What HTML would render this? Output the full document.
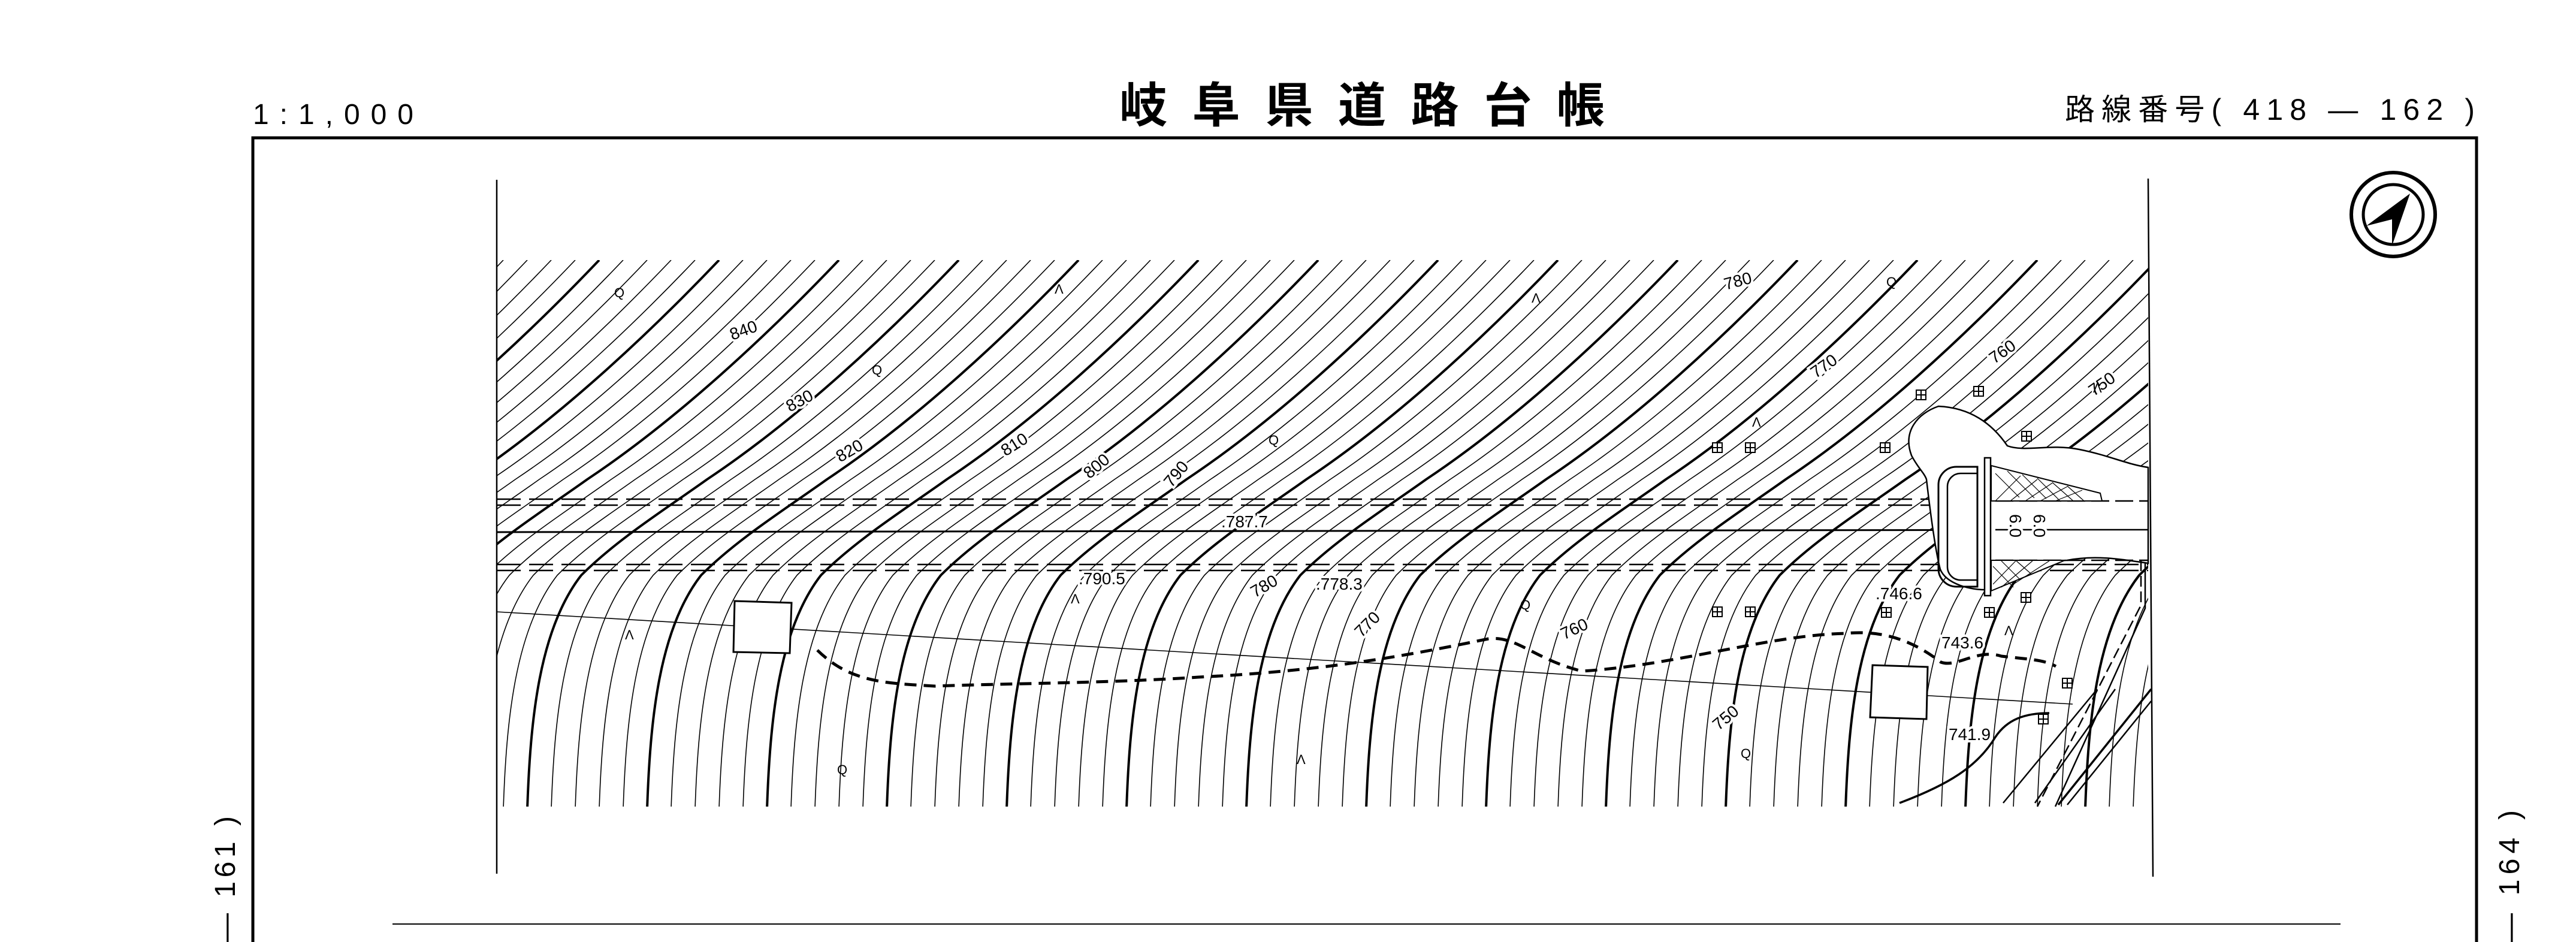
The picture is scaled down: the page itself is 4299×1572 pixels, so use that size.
<!DOCTYPE html>
<html><head><meta charset="utf-8">
<style>
html,body{margin:0;padding:0;background:#fff;}
body{width:4299px;height:1572px;overflow:hidden;position:relative;}
svg{position:absolute;left:0;top:0;}
text{font-family:"Liberation Sans","Noto Sans CJK JP",sans-serif;fill:#000;}
</style></head><body>
<svg width="4299" height="1572" viewBox="0 0 4299 1572" xmlns="http://www.w3.org/2000/svg">
<defs>
<clipPath id="mc"><rect x="829" y="434" width="2756" height="912"/></clipPath>
<path id="a" d="M0,1350 C5,1200 20,1050 90,960 C150,900 230,850 300,800 C450,700 600,560 720,434" fill="none" stroke="#000"/>
<g id="ga"><use href="#a" x="0" stroke-width="1.6"/><use href="#a" x="40" stroke-width="1.6"/><use href="#a" x="80" stroke-width="4"/><use href="#a" x="120" stroke-width="1.6"/><use href="#a" x="160" stroke-width="1.6"/></g>
<g id="sq"><rect x="-8" y="-8" width="16" height="16" fill="#fff" stroke="#000" stroke-width="2"/><path d="M-8,0H8M0,-8V8" stroke="#000" stroke-width="2"/></g>
</defs>

<!-- header -->
<text x="422" y="207" font-size="48" textLength="268" lengthAdjust="spacing">1:1,000</text>
<text x="1868" y="204" font-size="80" font-weight="bold" textLength="810" lengthAdjust="spacing">岐阜県道路台帳</text>
<text x="3446" y="200" font-size="50" textLength="684" lengthAdjust="spacing">路線番号( 418 — 162 )</text>

<!-- frame -->
<path d="M422,1572V230H4133V1572" fill="none" stroke="#000" stroke-width="5"/>
<line x1="829" y1="300" x2="829" y2="1458" stroke="#000" stroke-width="2.5"/>
<line x1="3585" y1="298" x2="3593" y2="1463" stroke="#000" stroke-width="2.5"/>
<line x1="655" y1="1542" x2="3906" y2="1542" stroke="#000" stroke-width="2"/>

<!-- side texts -->
<text transform="translate(392,1572) rotate(-90)" font-size="48" textLength="210" lengthAdjust="spacing">— 161 )</text>
<text transform="translate(4204,1572) rotate(-90)" font-size="48" textLength="220" lengthAdjust="spacing">— 164 )</text>

<!-- compass -->
<circle cx="3994" cy="358" r="70" fill="none" stroke="#000" stroke-width="6"/>
<circle cx="3994" cy="358" r="50" fill="none" stroke="#000" stroke-width="5"/>
<path d="M4022,323 L3949,377 L3992,366 L3992,410 Z" fill="#000"/>

<!-- contours -->
<g clip-path="url(#mc)">
<use href="#ga" x="-600"/><use href="#ga" x="-400"/><use href="#ga" x="-200"/><use href="#ga" x="0"/>
<use href="#ga" x="200"/><use href="#ga" x="400"/><use href="#ga" x="600"/><use href="#ga" x="800"/>
<use href="#ga" x="1000"/><use href="#ga" x="1200"/><use href="#ga" x="1400"/><use href="#ga" x="1600"/>
<use href="#ga" x="1800"/><use href="#ga" x="2000"/><use href="#ga" x="2200"/><use href="#ga" x="2400"/>
<use href="#ga" x="2600"/><use href="#ga" x="2800"/><use href="#ga" x="3000"/><use href="#ga" x="3200"/>
<use href="#ga" x="3400"/>

<!-- road -->
<g stroke="#000" stroke-width="2.5" fill="none">
<line x1="829" y1="833" x2="3585" y2="833" stroke-dasharray="40 14"/>
<line x1="829" y1="843" x2="3585" y2="843" stroke-dasharray="40 14"/>
<line x1="829" y1="888" x2="3585" y2="884" stroke-width="3"/>
<line x1="829" y1="942" x2="3585" y2="942" stroke-dasharray="40 14"/>
<line x1="829" y1="952" x2="3585" y2="952" stroke-dasharray="40 14"/>
<path d="M829,1021 L3459,1175" stroke-width="1.6"/>
<path d="M1364,1085 C1420,1140 1480,1140 1560,1145 C1700,1140 1850,1140 2000,1130 C2200,1120 2330,1098 2484,1066 C2530,1060 2560,1100 2640,1120 C2800,1110 2950,1060 3080,1057 C3150,1050 3200,1075 3239,1105 C3265,1115 3300,1082 3340,1095 C3380,1100 3410,1100 3431,1112" stroke-width="5" stroke-dasharray="20 12"/>
</g>
</g>

<!-- buildings -->
<g fill="#fff" stroke="#000" stroke-width="3">
<path d="M1226,1003 L1321,1006 L1318,1090 L1224,1088 Z"/>
<path d="M3125,1110 L3217,1113 L3215,1200 L3121,1197 Z"/>
</g>

<!-- right structure -->
<g stroke="#000" fill="#fff" stroke-width="2.5">
<path d="M3235,678 C3200,690 3175,720 3190,760 C3200,780 3212,790 3215,800 C3222,860 3230,920 3238,950 C3248,975 3290,985 3315,984 L3330,940 L3450,935 C3500,925 3550,935 3585,940 L3585,780 C3550,775 3520,760 3470,750 C3420,740 3380,755 3350,744 C3320,700 3280,680 3235,678 Z"/>
</g>
<g stroke="#000" fill="none" stroke-width="2.5">
<line x1="3330" y1="836" x2="3585" y2="836" stroke-dasharray="30 10"/>
<line x1="3330" y1="884" x2="3585" y2="884"/>
<line x1="3330" y1="935" x2="3585" y2="935" stroke-dasharray="30 10"/>
<path d="M3265,779 H3300 V979 H3265 A30,30 0 0 1 3235,949 V809 A30,30 0 0 1 3265,779 Z" stroke-width="3"/>
<path d="M3272,790 H3300 V968 H3272 A22,22 0 0 1 3250,946 V812 A22,22 0 0 1 3272,790 Z"/>
<rect x="3312" y="764" width="10" height="230" fill="#fff"/>
<path d="M3323,777 L3505,823 L3508,836 L3323,836 Z" fill="#fff" stroke-width="2"/>
<path d="M3323,935 L3446,935 L3323,986 Z" fill="#fff" stroke-width="2"/>
<path d="M3573,935 L3573,1010 L3400,1346" stroke-dasharray="18 8"/>
<path d="M3580,940 L3580,1015 L3430,1346"/>
<path d="M3343,1340 L3500,1150"/>
<path d="M3396,1340 L3530,1150"/>
<path d="M3435,1343 L3590,1150" stroke-width="3.5"/>
<path d="M3450,1343 L3590,1170"/>
<path d="M3170,1340 C3250,1310 3300,1280 3330,1230 C3350,1200 3380,1190 3420,1190" stroke-width="3.5"/>
</g>
<g stroke="#000" stroke-width="1.2">
<path d="M3330,790 L3370,830 M3350,786 L3395,831 M3375,792 L3415,832 M3400,798 L3438,836 M3425,805 L3460,836 M3450,811 L3478,836 M3330,836 L3372,794 M3355,836 L3400,800 M3380,836 L3425,806 M3405,836 L3450,812 M3430,836 L3475,818"/>
<path d="M3326,945 L3360,980 M3340,936 L3370,966 M3365,936 L3390,958 M3326,975 L3364,936 M3340,980 L3392,936 M3360,975 L3420,936"/>
</g>

<!-- grid symbols -->
<use href="#sq" x="2866" y="747"/><use href="#sq" x="2921" y="747"/>
<use href="#sq" x="3206" y="659"/><use href="#sq" x="3302" y="653"/>
<use href="#sq" x="3146" y="747"/><use href="#sq" x="3382" y="728"/>
<use href="#sq" x="2866" y="1021"/><use href="#sq" x="2921" y="1021"/>
<use href="#sq" x="3148" y="1022"/><use href="#sq" x="3320" y="1022"/>
<use href="#sq" x="3381" y="997"/><use href="#sq" x="3450" y="1140"/>
<use href="#sq" x="3410" y="1200"/>

<!-- labels -->
<g font-size="28" stroke="#fff" stroke-width="8" paint-order="stroke">
<text transform="translate(1222,568) rotate(-20)">840</text>
<text transform="translate(1318,688) rotate(-28)">830</text>
<text transform="translate(1402,772) rotate(-30)">820</text>
<text transform="translate(1678,762) rotate(-32)">810</text>
<text transform="translate(1818,800) rotate(-40)">800</text>
<text transform="translate(1955,815) rotate(-50)">790</text>
<text transform="translate(2880,484) rotate(-15)">780</text>
<text transform="translate(2094,998) rotate(-30)">780</text>
<text transform="translate(3030,632) rotate(-35)">770</text>
<text transform="translate(2272,1065) rotate(-45)">770</text>
<text transform="translate(3328,608) rotate(-35)">760</text>
<text transform="translate(2610,1068) rotate(-25)">760</text>
<text transform="translate(3494,662) rotate(-35)">750</text>
<text transform="translate(2868,1220) rotate(-40)">750</text>
<text x="2038" y="880">.787.7</text>
<text x="1800" y="975">.790.5</text>
<text x="2196" y="984">.778.3</text>
<text x="3130" y="1000">.746.6</text>
<text x="3240" y="1082">743.6</text>
<text x="3252" y="1235">741.9</text>
<text transform="translate(3354,858) rotate(90)">6.0</text>
<text transform="translate(3394,858) rotate(90)">6.0</text>
</g>
<g font-size="22">
<text x="1025" y="496">Q</text><text x="1455" y="625">Q</text><text x="2117" y="742">Q</text>
<text x="3148" y="478">Q</text><text x="2537" y="1017">Q</text><text x="1397" y="1292">Q</text>
<text x="2905" y="1265">Q</text>
<text x="1760" y="490">Λ</text><text x="2556" y="505">Λ</text><text x="2924" y="712">Λ</text>
<text x="1043" y="1067">Λ</text><text x="1787" y="1007">Λ</text><text x="2164" y="1275">Λ</text>
<text x="3345" y="1060">Λ</text><text x="3493" y="655">Λ</text>
</g>
</svg>
</body></html>
